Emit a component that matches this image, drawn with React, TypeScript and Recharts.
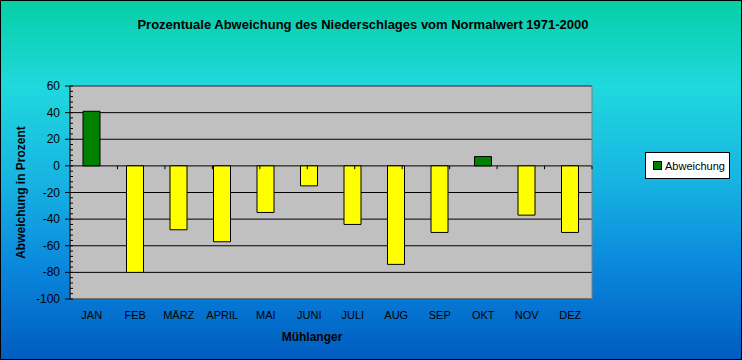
import { BarChart, Bar, Cell, XAxis, YAxis, CartesianGrid, ReferenceArea, ReferenceLine } from 'recharts';

// Monthly precipitation deviation from the 1971-2000 normal (percent)
const months = ['JAN', 'FEB', 'MÄRZ', 'APRIL', 'MAI', 'JUNI', 'JULI', 'AUG', 'SEP', 'OKT', 'NOV', 'DEZ'];
const deviation = [41, -80, -48, -57, -35, -15, -44, -74, -50, 7, -37, -50];

const yMajorTicks = [-100, -80, -60, -40, -20, 0, 20, 40, 60];
const yMinorStep = 4;
const categoryBoundaries = [1, 2, 3, 4, 5, 6, 7, 8, 9, 10, 11, 12];

const data = months.map((m, i) => ({ month: m, value: deviation[i] }));

const yTicks: number[] = [];
for (let v = -100; v <= 60; v += yMinorStep) yTicks.push(v);

const FONT = '"Liberation Sans", Arial, sans-serif';

const YTick = ({ x, y, payload }: any) => {
  const major = payload.value % 20 === 0;
  return (
    <g>
      <line x1={major ? x - 5 : x} x2={x + 3} y1={y} y2={y} stroke="#000" />
      {major && (
        <text x={x - 10} y={y} dy={4} textAnchor="end" fontSize={12} fontFamily={FONT} fill="#000">
          {payload.value}
        </text>
      )}
    </g>
  );
};

const YLabel = ({ viewBox }: any) => {
  const cx = viewBox.x + 21;
  const cy = viewBox.y + viewBox.height / 2;
  return (
    <text x={cx} y={cy} transform={`rotate(-90 ${cx} ${cy})`} textAnchor="middle" dominantBaseline="central"
      fontSize={12} fontWeight="bold" fontFamily={FONT} fill="#000">
      Abweichung in Prozent
    </text>
  );
};

const XLabel = ({ viewBox }: any) => {
  const cx = viewBox.x + viewBox.width / 2 - 19;
  return (
    <text x={cx} y={viewBox.y + 38} textAnchor="middle" dominantBaseline="central"
      fontSize={12} fontWeight="bold" fontFamily={FONT} fill="#000">
      Mühlanger
    </text>
  );
};

export default function App() {
  return (
    <div
      style={{
        position: 'fixed',
        left: 0,
        top: 0,
        width: 742,
        height: 360,
        boxSizing: 'border-box',
        border: '1px solid #000',
        background: 'linear-gradient(to bottom, #06cfa6 0%, #20d8de 24%, #17b4e2 50%, #0a86dc 75%, #005cc0 100%)',
        fontFamily: FONT,
      }}
    >
      <div style={{ position: 'absolute', left: 0, top: 16, width: 724, textAlign: 'center', fontSize: 13, fontWeight: 'bold', color: '#000' }}>
        Prozentuale Abweichung des Niederschlages vom Normalwert 1971-2000
      </div>

      <div style={{ position: 'absolute', left: -1, top: -1 }}>
        <BarChart width={742} height={360} data={data} margin={{ top: 86, right: 150, bottom: 16, left: 0 }} barSize={17}>
          <CartesianGrid xAxisId="cat" horizontalValues={yMajorTicks} vertical={false} stroke="#000" fill="#c0c0c0" fillOpacity={1} />
          <XAxis
            xAxisId="cat"
            dataKey="month"
            height={45}
            axisLine={false}
            tickLine={false}
            tickSize={0}
            tickMargin={12}
            interval={0}
            tick={{ fontSize: 11, fill: '#000', fontFamily: FONT }}
            label={XLabel}
          />
          <XAxis xAxisId="num" type="number" domain={[0, 12]} hide />
          <YAxis
            domain={[-100, 60]}
            ticks={yTicks}
            interval={0}
            width={70}
            axisLine={{ stroke: '#000' }}
            tickLine={false}
            tickSize={0}
            tickMargin={0}
            tick={<YTick />}
            label={YLabel}
          />
          <ReferenceArea xAxisId="cat" y1={-100} y2={60} fill="none" stroke="#808080" />
          {categoryBoundaries.map((b) => (
            <ReferenceLine key={b} xAxisId="num" segment={[{ x: b, y: 0 }, { x: b, y: -2.5 }]} stroke="#000" />
          ))}
          <Bar xAxisId="cat" dataKey="value" name="Abweichung" fill="#008000" stroke="#000" strokeWidth={1} isAnimationActive={false}>
            {data.map((d, i) => (
              <Cell key={i} fill={d.value >= 0 ? '#008000' : '#ffff00'} />
            ))}
          </Bar>
        </BarChart>
      </div>

      <div
        style={{
          position: 'absolute',
          left: 644,
          top: 151,
          width: 85,
          height: 27,
          boxSizing: 'border-box',
          background: '#fff',
          border: '1px solid #000',
          display: 'flex',
          alignItems: 'center',
          paddingLeft: 7,
          fontSize: 11,
          color: '#000',
        }}
      >
        <span style={{ display: 'inline-block', width: 7, height: 7, background: '#008000', border: '1px solid #000', marginRight: 3 }} />
        Abweichung
      </div>
    </div>
  );
}
